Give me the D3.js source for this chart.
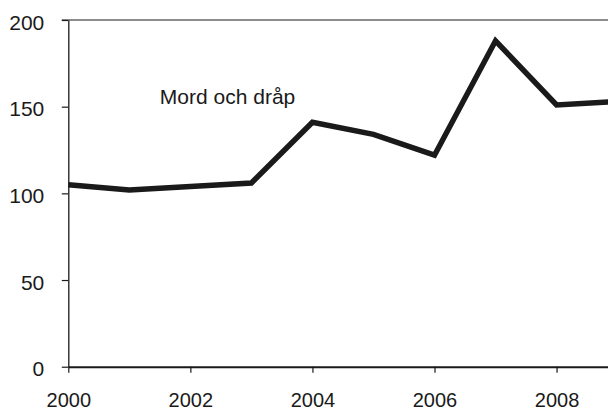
<!DOCTYPE html>
<html>
<head>
<meta charset="utf-8">
<script src="https://cdn.jsdelivr.net/npm/d3@7"></script>
<style>
  html, body { margin: 0; padding: 0; background: #fff; }
  svg { display: block; }
  text { font-family: "Liberation Sans", Arial, sans-serif; fill: #1a1a1a; }
</style>
</head>
<body>
<svg id="chart" width="608" height="412"></svg>
<script>
const years = [2000, 2001, 2002, 2003, 2004, 2005, 2006, 2007, 2008, 2009];
const values = [105, 102, 104, 106, 141, 134, 122, 188, 151, 153];
const seriesLabel = "Mord och dråp";
const xTicks = [2000, 2002, 2004, 2006, 2008];
const yTicks = [0, 50, 100, 150, 200];

(function () {
const svg = d3.select("#chart");
const mLeft = 68.3, mRight = 617.6, mTop = 20, mBottom = 366.7;

const x = d3.scaleLinear().domain([2000, 2009]).range([mLeft, mRight]);
const y = d3.scaleLinear().domain([0, 200]).range([mBottom, mTop]);

const data = years.map((yr, i) => ({ yr, v: values[i] }));

// top frame line
svg.append("line")
  .attr("x1", mLeft - 6.5).attr("x2", mRight)
  .attr("y1", y(200)).attr("y2", y(200))
  .attr("stroke", "#1a1a1a").attr("stroke-width", 1.2);

// y axis
const yAxis = svg.append("g")
  .attr("transform", `translate(${mLeft},0)`)
  .call(d3.axisLeft(y).tickValues(yTicks).tickSize(6.5).tickSizeOuter(0).tickPadding(17.5));
yAxis.select(".domain").attr("stroke", "#1a1a1a").attr("stroke-width", 1.3);
yAxis.selectAll(".tick line").attr("stroke", "#1a1a1a").attr("stroke-width", 1.2);
yAxis.selectAll(".tick text")
  .attr("dy", "0.44em")
  .style("font-size", "21px")
  .style("font-family", "'Liberation Sans', Arial, sans-serif")
  .attr("fill", "#1a1a1a");

// x axis
const xAxis = svg.append("g")
  .attr("transform", `translate(0,${mBottom})`)
  .call(d3.axisBottom(x).tickValues(xTicks).tickFormat(d3.format("d")).tickSize(6).tickSizeOuter(0).tickPadding(20.6));
xAxis.select(".domain").attr("stroke", "#1a1a1a").attr("stroke-width", 2);
xAxis.selectAll(".tick line").attr("stroke", "#1a1a1a").attr("stroke-width", 1.2);
xAxis.selectAll(".tick text")
  .style("font-size", "20px")
  .style("font-family", "'Liberation Sans', Arial, sans-serif")
  .attr("fill", "#1a1a1a");

// line
const line = d3.line().x(d => x(d.yr)).y(d => y(d.v));
svg.append("path")
  .datum(data)
  .attr("d", line)
  .attr("fill", "none")
  .attr("stroke", "#1a1a1a")
  .attr("stroke-width", 5.5)
  .attr("stroke-linejoin", "miter");

// series label
svg.append("text")
  .attr("x", x(2001.5))
  .attr("y", y(151.5))
  .style("font-size", "21px")
  .text(seriesLabel);
})();
</script>
</body>
</html>
